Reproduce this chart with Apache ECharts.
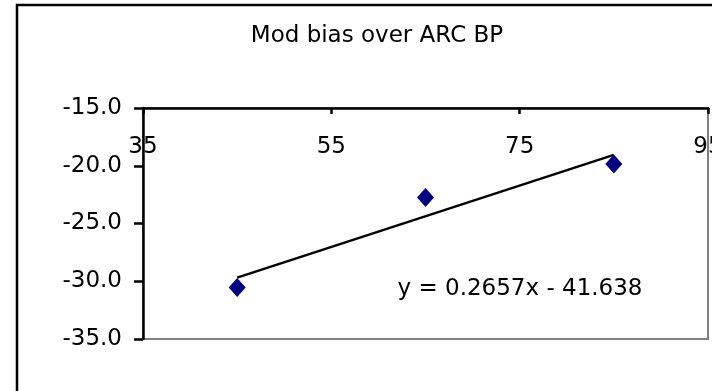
<!DOCTYPE html>
<html>
<head>
<meta charset="utf-8">
<script src="https://cdn.jsdelivr.net/npm/echarts@6/dist/echarts.min.js"></script>
<style>
html,body{margin:0;padding:0;background:#fff;}
#chart{width:712px;height:391px;}
</style>
</head>
<body>
<div id="chart"></div>
<script>
var titleText = 'Mod bias over ARC BP';
var xValues = [45, 65, 85];
var yValues = [-30.55, -22.75, -19.85];
var trendSlope = [0.2657];
var trendIntercept = [-41.638];
var trendRange = [45, 85];
var xTicks = [35, 55, 75, 95];
var yTicks = [-35, -30, -25, -20, -15];
var equationText = 'y = 0.2657x - 41.638';

var FONT = 'DejaVu Sans';
var FS = 23;
var chart = echarts.init(document.getElementById('chart'));
var points = xValues.map(function (x, i) { return [x, yValues[i]]; });
var trend = trendRange.map(function (x) { return [x, trendSlope[0] * x + trendIntercept[0]]; });

chart.setOption({
  animation: false,
  backgroundColor: '#fff',
  grid: {
    left: 143, top: 108, right: 4, bottom: 52,
    outerBoundsMode: 'none', containLabel: false,
    show: true, borderColor: '#808080', borderWidth: 2, backgroundColor: '#fff'
  },
  xAxis: {
    type: 'value', position: 'top',
    min: xTicks[0], max: xTicks[xTicks.length - 1], interval: 20,
    axisLine: { show: true, lineStyle: { color: '#000', width: 2.5 } },
    axisTick: { show: true, inside: true, length: 6, lineStyle: { color: '#000', width: 2.5 } },
    axisLabel: { inside: true, margin: 28, color: '#000', fontFamily: FONT, fontSize: FS, showMaxLabel: true, showMinLabel: true, hideOverlap: false },
    splitLine: { show: false }
  },
  yAxis: {
    type: 'value',
    min: yTicks[0], max: yTicks[yTicks.length - 1], interval: 5,
    axisLine: { show: true, lineStyle: { color: '#000', width: 2.5 } },
    axisTick: { show: true, length: 9, lineStyle: { color: '#000', width: 2.5 } },
    axisLabel: {
      margin: 21, color: '#000', fontFamily: FONT, fontSize: FS,
      formatter: function (v) { return v.toFixed(1); }
    },
    splitLine: { show: false }
  },
  series: [
    {
      type: 'line', data: trend, symbol: 'none', z: 3,
      lineStyle: { color: '#000', width: 2.5 }
    },
    {
      type: 'scatter', data: points, symbol: 'diamond', symbolSize: [17, 19], z: 4,
      itemStyle: { color: '#000080', opacity: 1 }
    }
  ],
  graphic: [
    {
      type: 'rect', z: -10, silent: true,
      shape: { x: 17, y: 5, width: 900, height: 600 },
      style: { fill: 'none', stroke: '#000', lineWidth: 2.5 }
    },
    {
      type: 'text', x: 377, y: 36, z: 10,
      style: { text: titleText, fill: '#000', fontFamily: FONT, fontSize: FS, align: 'center', verticalAlign: 'middle' }
    },
    {
      type: 'text', x: 520, y: 289, z: 10,
      style: { text: equationText, fill: '#000', fontFamily: FONT, fontSize: FS, align: 'center', verticalAlign: 'middle' }
    }
  ]
});
</script>
</body>
</html>
